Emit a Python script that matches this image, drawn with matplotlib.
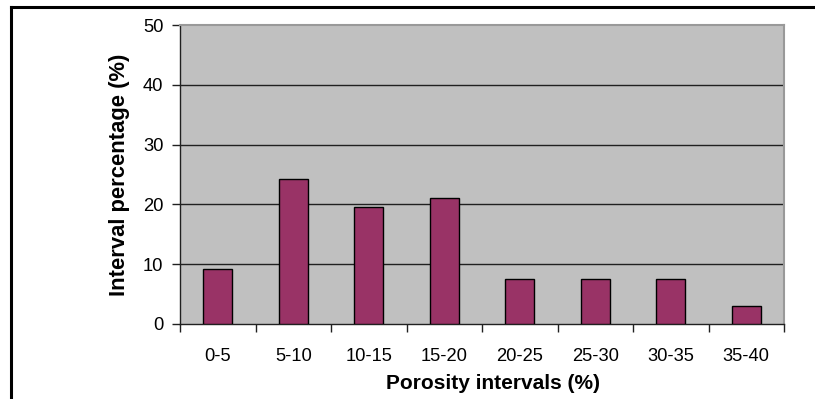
import matplotlib
matplotlib.use("Agg")
import matplotlib.pyplot as plt
from matplotlib.lines import Line2D
import numpy as np

plt.rcParams['font.family'] = ['Liberation Sans', 'DejaVu Sans']

categories = ["0-5", "5-10", "10-15", "15-20", "20-25", "25-30", "30-35", "35-40"]
percentages = [9.2, 24.2, 19.6, 21.1, 7.6, 7.6, 7.6, 3.0]
y_ticks = [0, 10, 20, 30, 40, 50]

W, H = 815, 399
fig = plt.figure(figsize=(W / 100, H / 100), dpi=100)

# outer frame lines (top and left)
fig.add_artist(Line2D([11 / W, 1.0], [1 - 6.5 / H, 1 - 6.5 / H], color="black", lw=2.2,
                      transform=fig.transFigure))
fig.add_artist(Line2D([11 / W, 11 / W], [0, 1 - 6.5 / H], color="black", lw=2.2,
                      transform=fig.transFigure))

left, right, top, bottom = 180, 784, 25, 324
ax = fig.add_axes([left / W, 1 - bottom / H, (right - left) / W, (bottom - top) / H])
ax.set_facecolor("#C0C0C0")

x = np.arange(len(categories))
ax.bar(x, percentages, width=0.39, color="#993366", edgecolor="black", linewidth=1.0, zorder=3)

ax.set_xlim(-0.5, len(categories) - 0.5)
ax.set_ylim(0, 50)
ax.set_yticks(y_ticks)
ax.set_yticklabels([str(v) for v in y_ticks], fontsize=13.2)
for v in y_ticks[1:-1]:
    ax.axhline(v, color="#202020", lw=1.0, zorder=1)

ax.set_xticks(x)
ax.set_xticklabels(categories, fontsize=13.2)
ax.set_xticks(np.arange(len(categories) + 1) - 0.5, minor=True)
ax.tick_params(axis="x", which="major", length=0, pad=17)
ax.tick_params(axis="x", which="minor", length=6, width=1, color="#202020", direction="out")
ax.tick_params(axis="y", length=6, width=1, color="#202020", direction="out", pad=6)

for s in ["left", "bottom"]:
    ax.spines[s].set_color("#202020")
    ax.spines[s].set_linewidth(1.0)
for s in ["top", "right"]:
    ax.spines[s].set_color("#999999")
    ax.spines[s].set_linewidth(1.5)

ax.set_xlabel("Porosity intervals (%)", fontsize=15, fontweight="bold", labelpad=7)
ax.xaxis.label.set_x(0.518)
ax.set_ylabel("Interval percentage (%)", fontsize=15.8, fontweight="bold", labelpad=9)

fig.savefig("out.png", dpi=100)
